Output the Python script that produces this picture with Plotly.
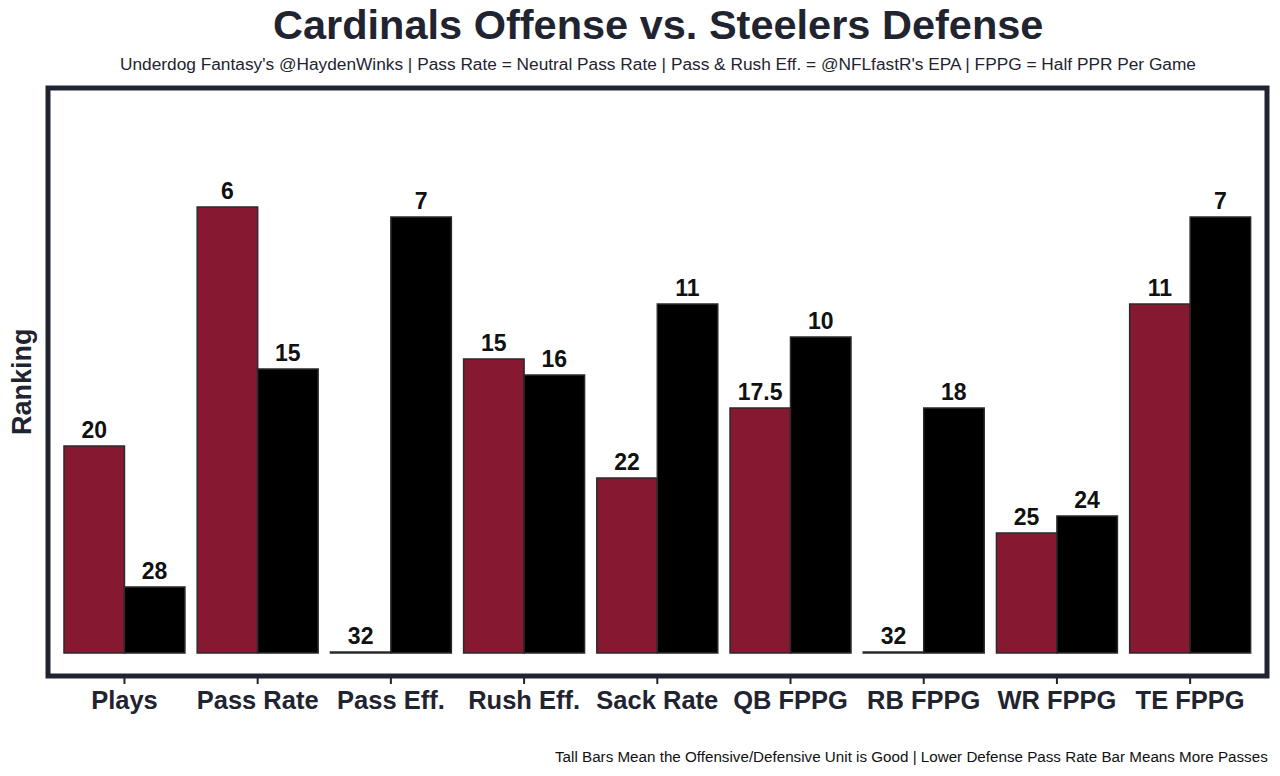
import plotly.graph_objects as go

categories = ["Plays", "Pass Rate", "Pass Eff.", "Rush Eff.", "Sack Rate",
              "QB FPPG", "RB FPPG", "WR FPPG", "TE FPPG"]

# bar heights (tall = good)
offense_height = [11.87, 25.57, 0.05, 16.86, 10.03, 14.05, 0.05, 6.88, 20.01]
defense_height = [3.78, 16.28, 25.0, 15.94, 20.01, 18.12, 14.05, 7.86, 25.0]

# rank labels shown on top of bars
offense_rank = ["20", "6", "32", "15", "22", "17.5", "32", "25", "11"]
defense_rank = ["28", "15", "7", "16", "11", "10", "18", "24", "7"]

FONT = "Liberation Sans, Arial, sans-serif"
DARK = "#1f2430"

fig = go.Figure()
fig.add_trace(go.Bar(
    x=categories, y=offense_height, text=offense_rank, name="Cardinals Offense",
    marker=dict(color="#861832", line=dict(color="#2a2a2a", width=1.5)),
    textposition="outside", cliponaxis=False,
    textfont=dict(family=FONT, size=23, color="#111111"),
    texttemplate="<b>%{text}</b>",
))
fig.add_trace(go.Bar(
    x=categories, y=defense_height, text=defense_rank, name="Steelers Defense",
    marker=dict(color="#000000", line=dict(color="#2a2a2a", width=1.5)),
    textposition="outside", cliponaxis=False,
    textfont=dict(family=FONT, size=23, color="#111111"),
    texttemplate="<b>%{text}</b>",
))

# small tick marks below the frame, one per category
tick_shapes = [dict(type="line", xref="x", yref="paper", ysizemode="pixel", yanchor=0,
                    x0=c, x1=c, y0=0, y1=-8, line=dict(color=DARK, width=2))
               for c in categories]

fig.update_layout(
    width=1280, height=776,
    margin=dict(l=48, r=13, t=88, b=100),
    paper_bgcolor="white", plot_bgcolor="white",
    barmode="group", bargap=0.092, bargroupgap=0,
    showlegend=False,
    font=dict(family=FONT, color=DARK),
    xaxis=dict(
        range=[-0.574, 8.577], showgrid=False, zeroline=False, showline=False,
        ticks="outside", ticklen=1, tickcolor="rgba(0,0,0,0)",
        tickfont=dict(family=FONT, size=25.5, color=DARK),
        tickvals=categories, ticktext=["<b>%s</b>" % c for c in categories],
    ),
    yaxis=dict(
        range=[-1.32, 32.4], showgrid=False, zeroline=False, showline=False,
        showticklabels=False, ticks="",
    ),
    shapes=tick_shapes + [dict(type="rect", xref="paper", yref="paper", x0=0, x1=1, y0=0, y1=1,
                               line=dict(color=DARK, width=5), fillcolor="rgba(0,0,0,0)")],
    annotations=[
        dict(text="<b>Cardinals Offense vs. Steelers Defense</b>", xref="paper", yref="paper",
             x=0.5, y=1, yshift=64, xanchor="center", yanchor="middle", showarrow=False,
             font=dict(family=FONT, size=41.5, color=DARK)),
        dict(text="Underdog Fantasy's @HaydenWinks | Pass Rate = Neutral Pass Rate | Pass & Rush Eff. = @NFLfastR's EPA | FPPG = Half PPR Per Game",
             xref="paper", yref="paper", x=0.5, y=1, yshift=24, xanchor="center", yanchor="middle",
             showarrow=False, font=dict(family=FONT, size=17.3, color=DARK)),
        dict(text="<b>Ranking</b>", xref="paper", yref="paper", x=0, xshift=-26, y=0.5,
             xanchor="center", yanchor="middle", textangle=-90, showarrow=False,
             font=dict(family=FONT, size=27, color=DARK)),
        dict(text="Tall Bars Mean the Offensive/Defensive Unit is Good | Lower Defense Pass Rate Bar Means More Passes",
             xref="paper", yref="paper", x=1, xshift=3, y=0, yshift=-80, xanchor="right", yanchor="middle",
             showarrow=False, font=dict(family=FONT, size=15.2, color="#111111")),
    ],
)

fig.write_html("out.html", config={"displayModeBar": False},
               post_script="document.body.style.margin='0';")
